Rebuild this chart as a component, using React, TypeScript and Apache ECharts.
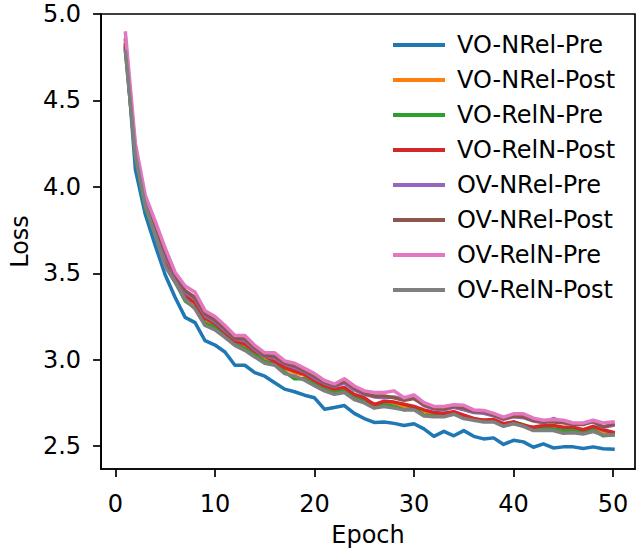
import React, { useEffect, useRef } from "react";
import * as echarts from "echarts";

const epochs = Array.from({ length: 50 }, (_, i) => i + 1);

const seriesNames = [
  "VO-NRel-Pre",
  "VO-NRel-Post",
  "VO-RelN-Pre",
  "VO-RelN-Post",
  "OV-NRel-Pre",
  "OV-NRel-Post",
  "OV-RelN-Pre",
  "OV-RelN-Post",
];

const seriesColors = ["#1f77b4", "#ff7f0e", "#2ca02c", "#d62728", "#9467bd", "#8c564b", "#e377c2", "#7f7f7f"];

const voNRelPre = [
  4.85, 4.10, 3.84, 3.66, 3.49, 3.36, 3.245, 3.215, 3.11, 3.085,
  3.045, 2.968, 2.968, 2.925, 2.905, 2.867, 2.83, 2.815, 2.795, 2.78,
  2.714, 2.724, 2.735, 2.69, 2.66, 2.637, 2.64, 2.632, 2.62, 2.63,
  2.60, 2.557, 2.586, 2.56, 2.59, 2.557, 2.542, 2.548, 2.51, 2.534,
  2.525, 2.494, 2.513, 2.49, 2.496, 2.496, 2.487, 2.496, 2.485, 2.483,
];
const voNRelPost = [
  4.83, 4.19, 3.90, 3.74, 3.57, 3.46, 3.36, 3.32, 3.23, 3.20,
  3.155, 3.10, 3.085, 3.04, 3.01, 2.985, 2.95, 2.925, 2.91, 2.875,
  2.845, 2.825, 2.835, 2.79, 2.77, 2.745, 2.745, 2.74, 2.73, 2.725,
  2.70, 2.685, 2.685, 2.695, 2.67, 2.655, 2.645, 2.645, 2.625, 2.635,
  2.615, 2.605, 2.61, 2.60, 2.595, 2.60, 2.59, 2.60, 2.585, 2.575,
];
const voRelNPre = [
  4.79, 4.17, 3.88, 3.72, 3.55, 3.45, 3.34, 3.30, 3.21, 3.19,
  3.14, 3.09, 3.065, 3.03, 2.99, 2.975, 2.93, 2.89, 2.89, 2.86,
  2.83, 2.81, 2.82, 2.78, 2.76, 2.73, 2.74, 2.73, 2.71, 2.72,
  2.68, 2.675, 2.68, 2.69, 2.665, 2.655, 2.65, 2.65, 2.62, 2.64,
  2.625, 2.60, 2.605, 2.60, 2.59, 2.59, 2.58, 2.595, 2.56, 2.565,
];
const voRelNPost = [
  4.80, 4.20, 3.91, 3.75, 3.58, 3.47, 3.37, 3.33, 3.24, 3.21,
  3.16, 3.11, 3.09, 3.05, 3.02, 2.99, 2.955, 2.935, 2.915, 2.88,
  2.85, 2.83, 2.84, 2.80, 2.78, 2.74, 2.76, 2.755, 2.743, 2.73,
  2.71, 2.695, 2.69, 2.70, 2.68, 2.66, 2.65, 2.655, 2.63, 2.64,
  2.62, 2.61, 2.62, 2.62, 2.61, 2.61, 2.595, 2.615, 2.595, 2.58,
];
const ovNRelPre = [
  4.81, 4.21, 3.92, 3.77, 3.60, 3.48, 3.39, 3.35, 3.255, 3.22,
  3.17, 3.12, 3.11, 3.06, 3.02, 3.01, 2.975, 2.955, 2.93, 2.895,
  2.865, 2.845, 2.865, 2.825, 2.80, 2.785, 2.78, 2.785, 2.77, 2.78,
  2.735, 2.715, 2.71, 2.725, 2.71, 2.695, 2.69, 2.675, 2.655, 2.67,
  2.665, 2.645, 2.635, 2.66, 2.64, 2.63, 2.63, 2.64, 2.61, 2.62,
];
const ovNRelPost = [
  4.82, 4.22, 3.93, 3.78, 3.62, 3.49, 3.40, 3.36, 3.265, 3.23,
  3.18, 3.125, 3.12, 3.07, 3.025, 3.02, 2.98, 2.965, 2.935, 2.905,
  2.87, 2.85, 2.875, 2.835, 2.805, 2.79, 2.79, 2.78, 2.765, 2.775,
  2.74, 2.72, 2.715, 2.73, 2.72, 2.70, 2.70, 2.68, 2.66, 2.675,
  2.67, 2.65, 2.64, 2.64, 2.635, 2.625, 2.625, 2.645, 2.612, 2.627,
];
const ovRelNPre = [
  4.89, 4.25, 3.95, 3.80, 3.645, 3.505, 3.427, 3.39, 3.284, 3.25,
  3.198, 3.14, 3.14, 3.083, 3.04, 3.04, 2.993, 2.98, 2.95, 2.92,
  2.88, 2.86, 2.89, 2.848, 2.82, 2.81, 2.81, 2.82, 2.78, 2.796,
  2.752, 2.73, 2.73, 2.74, 2.737, 2.71, 2.707, 2.69, 2.668, 2.687,
  2.687, 2.662, 2.65, 2.655, 2.65, 2.634, 2.634, 2.65, 2.634, 2.64,
];
const ovRelNPost = [
  4.78, 4.18, 3.89, 3.72, 3.54, 3.446, 3.35, 3.293, 3.198, 3.173,
  3.13, 3.083, 3.054, 3.016, 2.98, 2.968, 2.92, 2.905, 2.882, 2.85,
  2.82, 2.80, 2.81, 2.77, 2.75, 2.72, 2.73, 2.72, 2.71, 2.71,
  2.675, 2.67, 2.67, 2.685, 2.66, 2.65, 2.64, 2.64, 2.615, 2.63,
  2.615, 2.59, 2.59, 2.59, 2.575, 2.578, 2.57, 2.585, 2.565, 2.565,
];

const allValues = [voNRelPre, voNRelPost, voRelNPre, voRelNPost, ovNRelPre, ovNRelPost, ovRelNPre, ovRelNPost];

const xTicks = [0, 10, 20, 30, 40, 50];
const yTicks = [2.5, 3.0, 3.5, 4.0, 4.5, 5.0];

const FONT = "DejaVu Sans";
const FS = 24;

export default function App() {
  const ref = useRef<HTMLDivElement>(null);
  useEffect(() => {
    if (!ref.current) return;
    const chart = echarts.init(ref.current, undefined, { renderer: "svg" });
    const series = seriesNames.map((name, i) => ({
      name,
      type: "line",
      data: epochs.map((e, j) => [e, allValues[i][j]]),
      showSymbol: false,
      symbol: "none",
      lineStyle: { color: seriesColors[i], width: 3.5, cap: "square", join: "round" },
      itemStyle: { color: seriesColors[i] },
      emphasis: { disabled: true },
    }));
    chart.setOption({
      animation: false,
      backgroundColor: "#ffffff",
      textStyle: { fontFamily: FONT },
      grid: {
        left: 100,
        top: 14,
        right: 2,
        bottom: 79,
        show: true,
        borderColor: "#000",
        borderWidth: 1.7,
        backgroundColor: "transparent",
      },
      legend: {
        orient: "vertical",
        left: 388,
        top: 28,
        icon: "rect",
        itemWidth: 52,
        itemHeight: 4,
        itemGap: 11,
        data: seriesNames,
        textStyle: {
          fontFamily: FONT,
          fontSize: FS,
          color: "#000",
          lineHeight: 23,
          padding: [0, 0, 0, 7],
        },
      },
      xAxis: {
        type: "value",
        min: -1.45,
        max: 52.21,
        name: "Epoch",
        nameLocation: "middle",
        nameGap: 54,
        nameTextStyle: { fontFamily: FONT, fontSize: FS, color: "#000" },
        splitLine: { show: false },
        axisLine: { show: true, onZero: false, lineStyle: { color: "#000", width: 1.7 } },
        axisTick: { show: true, length: 8, lineStyle: { color: "#000", width: 1.7 }, customValues: xTicks },
        axisLabel: {
          fontFamily: FONT,
          fontSize: FS,
          color: "#000",
          margin: 23,
          customValues: xTicks,
          formatter: (v: number) => String(v),
        },
      },
      yAxis: {
        type: "value",
        min: 2.368,
        max: 5.0,
        name: "Loss",
        nameLocation: "middle",
        nameGap: 68,
        nameRotate: 90,
        nameTextStyle: { fontFamily: FONT, fontSize: FS, color: "#000" },
        splitLine: { show: false },
        axisLine: { show: true, onZero: false, lineStyle: { color: "#000", width: 1.7 } },
        axisTick: { show: true, length: 8, lineStyle: { color: "#000", width: 1.7 }, customValues: yTicks },
        axisLabel: {
          fontFamily: FONT,
          fontSize: FS,
          color: "#000",
          margin: 20,
          customValues: yTicks,
          formatter: (v: number) => v.toFixed(1),
        },
      },
      series,
    });
    return () => chart.dispose();
  }, []);
  return (
    <div
      ref={ref}
      style={{ position: "fixed", left: 0, top: 0, width: 637, height: 552, background: "#fff" }}
    />
  );
}
